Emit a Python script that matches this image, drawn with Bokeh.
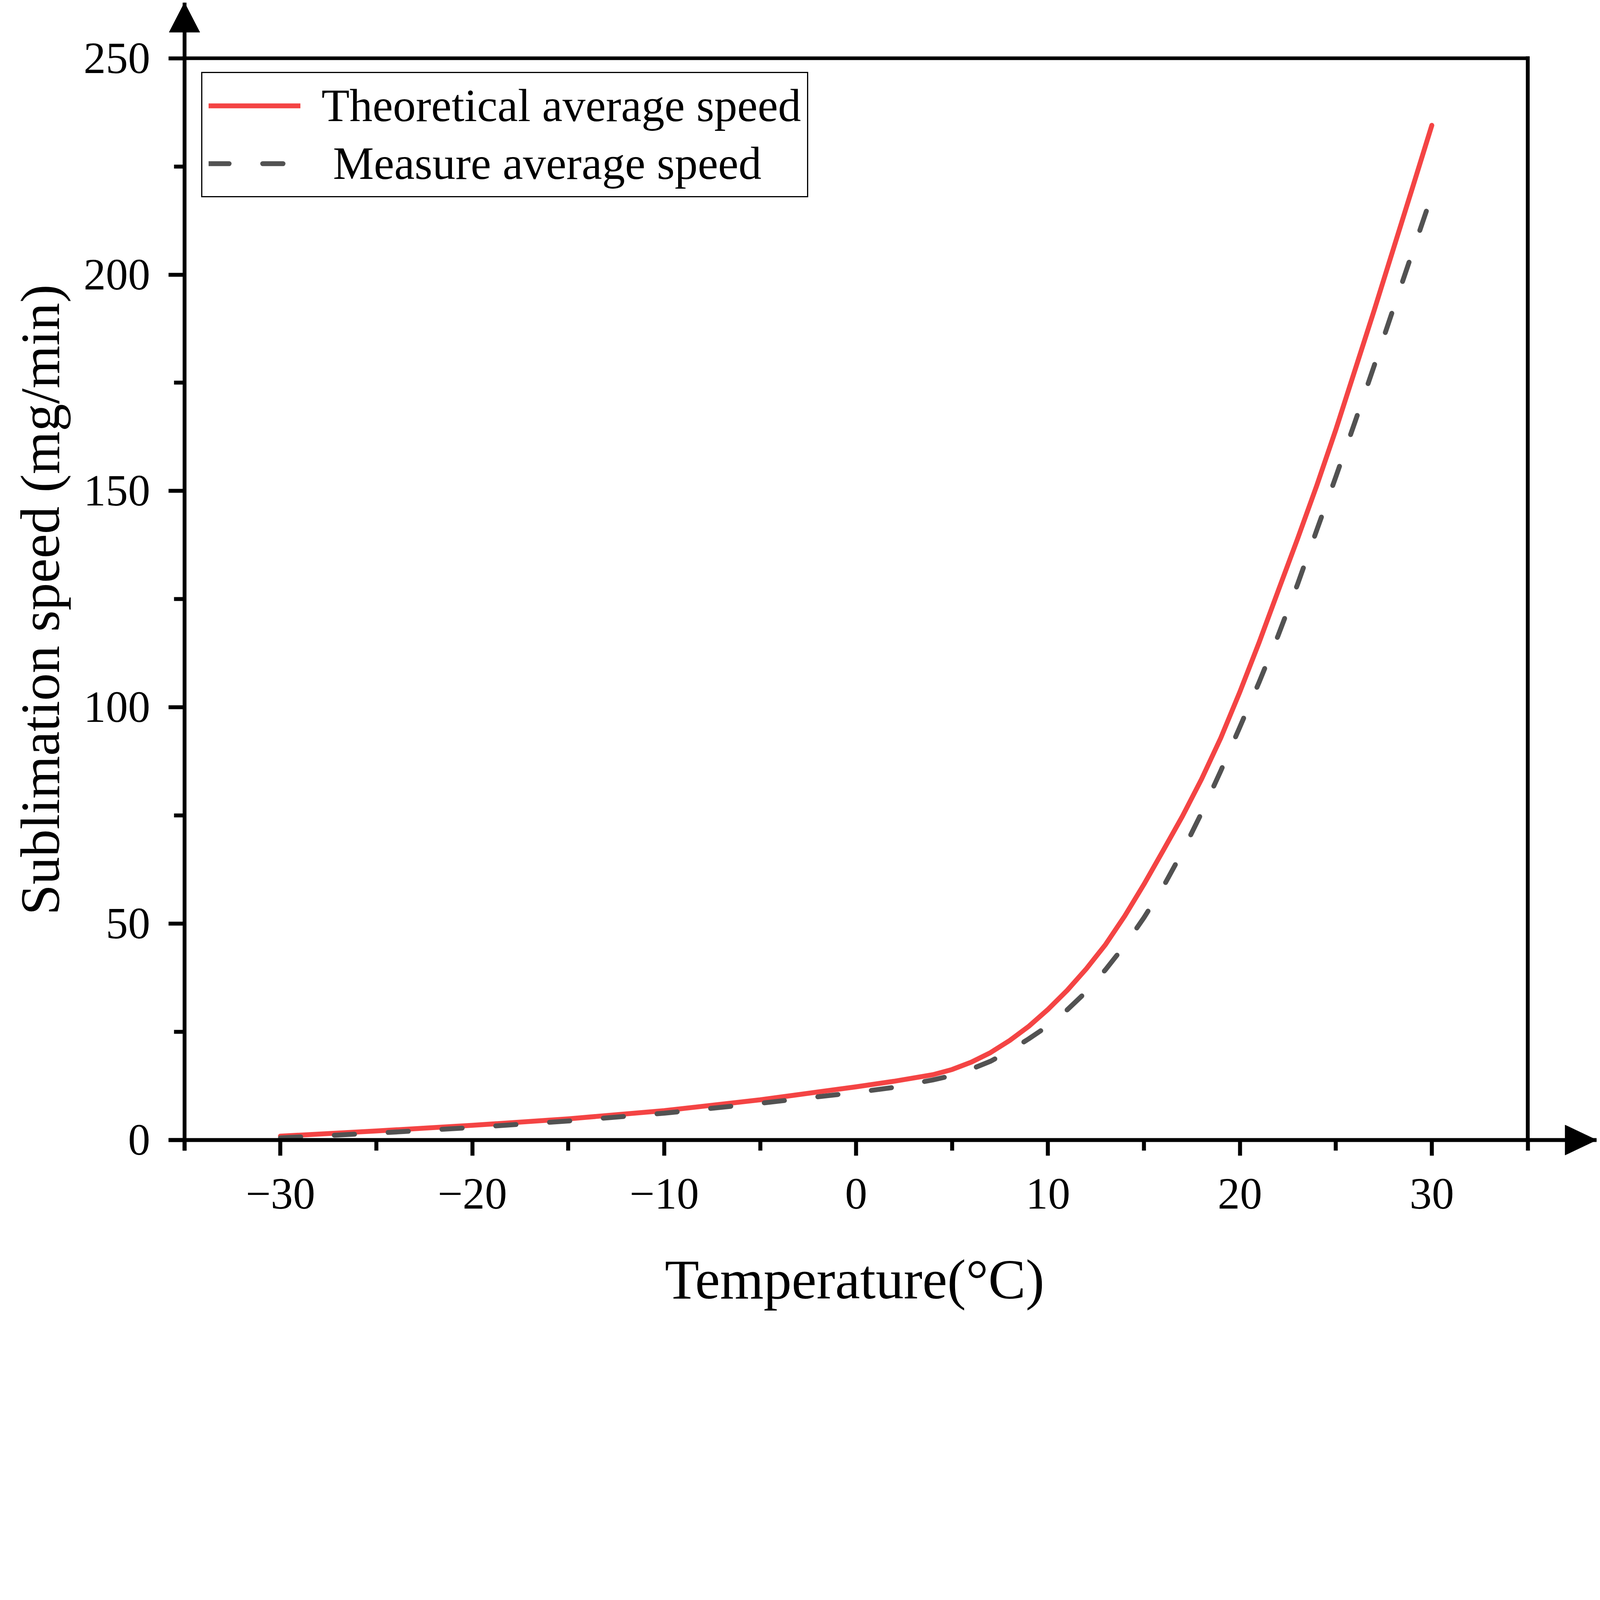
from bokeh.plotting import figure
from bokeh.models import Range1d, FixedTicker, Legend, LegendItem, LinearAxis
from bokeh.embed import file_html
from bokeh.resources import INLINE

# ---- data ----
temperature = [-30, -25, -20, -15, -10, -5, -2, 0, 2, 4, 5, 6, 7, 8, 9, 10, 11, 12, 13, 14,
               15, 16, 17, 18, 19, 20, 21, 22, 23, 24, 25, 26, 27, 28, 29, 30]
theoretical_speed = [0.9, 2.1, 3.4, 4.9, 6.8, 9.3, 11.1, 12.3, 13.6, 15.1, 16.3, 18.0, 20.2, 23.0,
                     26.3, 30.2, 34.6, 39.6, 45.2, 51.8, 59.1, 66.9, 74.8, 83.4, 92.9, 103.6,
                     115.0, 127.0, 138.9, 151.2, 164.2, 178.0, 191.8, 206.0, 220.2, 234.5]
measured_speed = [0.5, 1.6, 2.9, 4.4, 6.2, 8.5, 10.0, 11.0, 12.2, 13.9, 14.9, 16.4, 18.2, 20.6,
                  23.4, 26.4, 30.1, 34.3, 39.4, 45.0, 51.4, 58.5, 66.6, 75.6, 85.3, 95.5,
                  105.8, 116.7, 128.4, 140.9, 153.3, 166.0, 179.0, 192.2, 205.3, 218.4]

x_ticks = [-30, -20, -10, 0, 10, 20, 30]
x_tick_labels = ["\u221230", "\u221220", "\u221210", "0", "10", "20", "30"]
x_minor_ticks = [-35, -25, -15, -5, 5, 15, 25, 35]
y_ticks = [0, 50, 100, 150, 200, 250]
y_tick_labels = ["0", "50", "100", "150", "200", "250"]
y_minor_ticks = [25, 75, 125, 175, 225]

series_names = ["Theoretical average speed", "\u00a0Measure average speed"]
NB = "\u00a0"
x_title = "Temperature(\u00b0C)" + NB * 4      # trailing spaces keep the title centred on the box
y_title = "Sublimation speed (mg/min)" + NB * 3

# plot box (data units)
X_MIN, X_MAX = -35, 35
Y_MIN, Y_MAX = 0, 250

FONT = "Liberation Serif"
RED = "#F44444"
GRAY = "#525252"

# layout, in reference pixels, scaled by S
S = 0.784
REF_W, REF_H = 5220, 4299
AX_X, BOX_R, TIP_X = 602, 4988, 5213     # y-axis, box right edge, x-arrow tip
AX_Y, BOX_T, TIP_Y = 3723, 190, 8        # x-axis, box top edge, y-arrow tip
PPX = (BOX_R - AX_X) / (X_MAX - X_MIN)   # reference pixels per degree
PPY = (AX_Y - BOX_T) / (Y_MAX - Y_MIN)   # reference pixels per mg/min
PAD_L, PAD_B = 52, 51                    # room for the outer half of the arrow heads
X_START = X_MIN - PAD_L / PPX
Y_START = Y_MIN - PAD_B / PPY
X_END = X_MAX + (TIP_X - BOX_R) / PPX
Y_END = Y_MAX + (BOX_T - TIP_Y) / PPY
TICK_OUT, MINOR_OUT = 69, 34
DASH, GAP = 66, 110


def px(v):
    return v * S


def fs(v):
    return f"{v * S:.1f}px"


W, H = round(px(REF_W)), round(px(REF_H))
B_L, B_R = round(px(AX_X - PAD_L)), round(px(REF_W - TIP_X))
B_T, B_B = round(px(TIP_Y)), round(px(REF_H - AX_Y - PAD_B))
FH = H - B_T - B_B

p = figure(width=W, height=H, output_backend="svg", toolbar_location=None,
           x_range=Range1d(X_START, X_END), y_range=Range1d(Y_START, Y_END),
           min_border_left=B_L, min_border_right=B_R, min_border_top=B_T, min_border_bottom=B_B,
           background_fill_color="white", border_fill_color="white")
p.grid.visible = False
p.outline_line_color = None

# box: top and right edges
p.line([X_MIN, X_MAX], [Y_MAX, Y_MAX], line_color="black", line_width=px(12), line_cap="square")
p.line([X_MAX, X_MAX], [Y_MIN, Y_MAX], line_color="black", line_width=px(12.5), line_cap="square")

# arrow heads at the ends of the axes
y_base = Y_MAX + (BOX_T - 105) / PPY
half_w = 50 / PPX
p.patch([X_MIN - half_w, X_MIN, X_MIN + half_w], [y_base, Y_END, y_base],
        fill_color="black", line_color="black", line_width=1)
x_base = X_MAX + (5110 - BOX_R) / PPX
half_h = 49 / PPY
p.patch([x_base, X_END, x_base], [Y_MIN - half_h, Y_MIN, Y_MIN + half_h],
        fill_color="black", line_color="black", line_width=1)

r1 = p.line(temperature, theoretical_speed, line_color=RED, line_width=px(16),
            line_cap="round", line_join="round")
r2 = p.line(temperature, measured_speed, line_color=GRAY, line_width=px(16),
            line_dash=f"{round(px(DASH))} {round(px(GAP))}", line_cap="round", line_join="round")

# label axes: at the frame edges, only tick labels and titles
lab_x, lab_y = p.xaxis[0], p.yaxis[0]
for ax, ticks, labels in ((lab_x, x_ticks, x_tick_labels), (lab_y, y_ticks, y_tick_labels)):
    ax.ticker = FixedTicker(ticks=ticks, minor_ticks=[])
    ax.major_label_overrides = {t: l for t, l in zip(ticks, labels)}
    ax.axis_line_color = None
    ax.major_tick_line_color = None
    ax.minor_tick_line_color = None
    ax.major_tick_in = 0
    ax.major_tick_out = 0
    ax.minor_tick_in = 0
    ax.minor_tick_out = 0
    ax.major_label_text_font = FONT
    ax.major_label_text_font_size = fs(145)
    ax.major_label_text_color = "black"
    ax.axis_label_text_font = FONT
    ax.axis_label_text_font_style = "normal"
    ax.axis_label_text_color = "black"
lab_x.axis_label = x_title
lab_y.axis_label = y_title
lab_x.axis_label_text_font_size = fs(183)
lab_y.axis_label_text_font_size = fs(180)
lab_x.major_label_standoff = round(px(59 + TICK_OUT - PAD_B))
lab_y.major_label_standoff = round(px(43 + TICK_OUT - PAD_L))
lab_x.axis_label_standoff = round(px(126))
lab_y.axis_label_standoff = round(px(37))


# line axes: lines and ticks at x = -35 and y = 0
def line_axis(ticks, minor, loc, bounds):
    return LinearAxis(fixed_location=loc, bounds=bounds,
                      ticker=FixedTicker(ticks=ticks, minor_ticks=minor),
                      major_tick_in=0, major_tick_out=round(px(TICK_OUT)),
                      minor_tick_in=0, minor_tick_out=round(px(MINOR_OUT)),
                      major_tick_line_width=px(13), minor_tick_line_width=px(13),
                      axis_line_width=px(12.5), major_label_text_color=None,
                      major_label_text_font_size="1px", major_label_standoff=0)


p.add_layout(line_axis(x_ticks, x_minor_ticks, Y_MIN, (X_START, X_END)), "below")
p.add_layout(line_axis(y_ticks, y_minor_ticks, X_MIN, (Y_MIN - MINOR_OUT / PPY, Y_END)), "left")

row_h = round(px(170))
pad = round(px(20))
gap = round(px(16))
legend = Legend(items=[LegendItem(label=series_names[0], renderers=[r1]),
                       LegendItem(label=series_names[1], renderers=[r2])],
                location=(round(px(55 + PAD_L)), FH - round(px(241 + 396))))
legend.label_text_font = FONT
legend.label_text_font_size = fs(150)
legend.label_text_color = "black"
legend.border_line_color = "black"
legend.border_line_alpha = 1
legend.border_line_width = px(5)
legend.background_fill_color = "white"
legend.background_fill_alpha = 1
legend.glyph_width = round(px(300))
legend.glyph_height = row_h
legend.label_height = row_h
legend.label_standoff = round(px(69))
legend.padding = pad
legend.spacing = gap
legend.margin = 0
p.add_layout(legend)

open("out.html", "w").write(file_html(p, INLINE))
